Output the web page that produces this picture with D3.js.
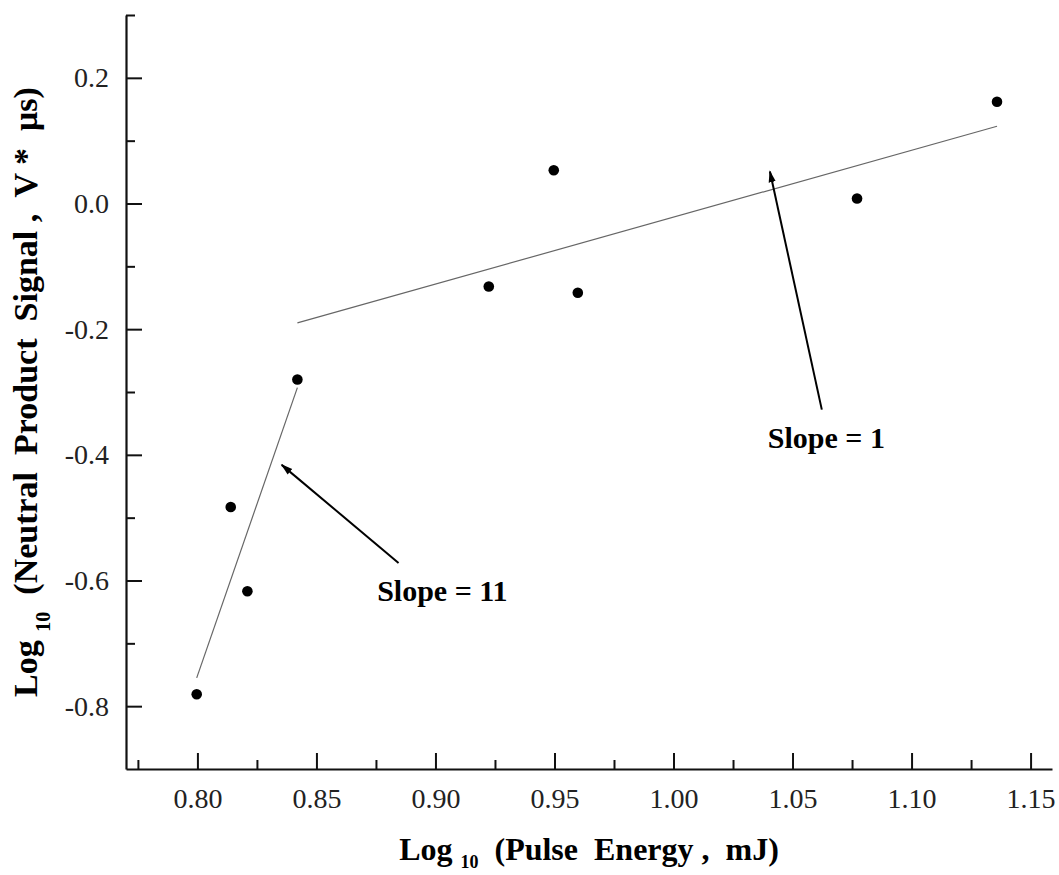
<!DOCTYPE html>
<html>
<head>
<meta charset="utf-8">
<script src="https://cdn.jsdelivr.net/npm/d3@7"></script>
<style>
  html, body { margin: 0; padding: 0; background: #fff; }
  svg { display: block; }
  text { font-family: "Liberation Serif", "Times New Roman", serif; }
</style>
</head>
<body>
<svg id="chart" width="1059" height="875"></svg>
<script>
// ---- data ----
const energyLog = [0.7997, 0.814, 0.821, 0.842, 0.9224, 0.9497, 0.9598, 1.0771, 1.1359];
const signalLog = [-0.781, -0.483, -0.617, -0.280, -0.132, 0.053, -0.142, 0.008, 0.162];

const fitLowX = [0.7997, 0.842];
const fitLowY = [-0.755, -0.293];
const fitHighX = [0.842, 1.1359];
const fitHighY = [-0.190, 0.123];

const xMajorTicks = [0.80, 0.85, 0.90, 0.95, 1.00, 1.05, 1.10, 1.15];
const xMinorTicks = [0.775, 0.825, 0.875, 0.925, 0.975, 1.025, 1.075, 1.125];
const yMajorTicks = [-0.8, -0.6, -0.4, -0.2, 0.0, 0.2];
const yMinorTicks = [-0.7, -0.5, -0.3, -0.1, 0.1, 0.3];

const annotationLabels = ["Slope = 11", "Slope = 1"];
const annotationTextX = [0.8755, 1.0396];
const annotationTextY = [-0.633, -0.389];
const arrowTailX = [0.8845, 1.0623];
const arrowTailY = [-0.572, -0.328];
const arrowTipX = [0.8354, 1.0405];
const arrowTipY = [-0.416, 0.051];

// ---- scales ----
const svg = d3.select("#chart");
const x = d3.scaleLinear().domain([0.77, 1.159]).range([126, 1052]);
const y = d3.scaleLinear().domain([-0.9, 0.3]).range([769, 15]);

const defs = svg.append("defs");
defs.append("marker")
  .attr("id", "arrowhead")
  .attr("viewBox", "0 0 10 10")
  .attr("refX", 9).attr("refY", 5)
  .attr("markerWidth", 12).attr("markerHeight", 12)
  .attr("markerUnits", "userSpaceOnUse")
  .attr("orient", "auto")
  .append("path").attr("d", "M0,2 L10,5 L0,8 Z").attr("fill", "#000");

// ---- axes ----
const axisY0 = y.range()[0];
const axisX0 = x.range()[0];
const fmtX = d => d3.format(".2f")(d).replace("−", "-");
const fmtY = d => d3.format(".1f")(d).replace("−", "-");

const gx = svg.append("g").attr("transform", `translate(0,${axisY0})`);
gx.call(d3.axisBottom(x).tickValues(xMajorTicks).tickSize(-16).tickSizeOuter(0)
  .tickFormat(fmtX).tickPadding(19));
gx.append("g").call(d3.axisBottom(x).tickValues(xMinorTicks).tickSize(-9).tickSizeOuter(0).tickFormat(""))
  .select(".domain").remove();

const gy = svg.append("g").attr("transform", `translate(${axisX0},0)`);
gy.call(d3.axisLeft(y).tickValues(yMajorTicks).tickSize(-16).tickSizeOuter(0)
  .tickFormat(fmtY).tickPadding(17));
gy.append("g").call(d3.axisLeft(y).tickValues(yMinorTicks).tickSize(-9).tickSizeOuter(0).tickFormat(""))
  .select(".domain").remove();

svg.selectAll(".domain").attr("stroke", "#111").attr("stroke-width", 2.2);
svg.selectAll(".tick line").attr("stroke", "#111").attr("stroke-width", 2);
svg.selectAll(".tick text").attr("font-size", 28).attr("fill", "#222")
  .attr("font-family", "Liberation Serif, Times New Roman, serif");
gx.selectAll(".tick text").attr("dy", "0.71em");

// ---- fit lines ----
const line = d3.line().x(d => x(d[0])).y(d => y(d[1]));
svg.append("path").datum(d3.zip(fitLowX, fitLowY)).attr("d", line)
  .attr("fill", "none").attr("stroke", "#666").attr("stroke-width", 1.2);
svg.append("path").datum(d3.zip(fitHighX, fitHighY)).attr("d", line)
  .attr("fill", "none").attr("stroke", "#666").attr("stroke-width", 1.2);

// ---- points ----
svg.append("g").selectAll("circle").data(d3.zip(energyLog, signalLog)).join("circle")
  .attr("cx", d => x(d[0])).attr("cy", d => y(d[1])).attr("r", 5.3).attr("fill", "#000");

// ---- annotations ----
annotationLabels.forEach((lab, i) => {
  svg.append("line")
    .attr("x1", x(arrowTailX[i])).attr("y1", y(arrowTailY[i]))
    .attr("x2", x(arrowTipX[i])).attr("y2", y(arrowTipY[i]))
    .attr("stroke", "#000").attr("stroke-width", 2)
    .attr("marker-end", "url(#arrowhead)");
  svg.append("text")
    .attr("x", x(annotationTextX[i])).attr("y", y(annotationTextY[i]))
    .attr("font-size", 30).attr("font-weight", "bold").attr("fill", "#000")
    .text(lab);
});

// ---- axis titles ----
const xt = svg.append("text").attr("x", (x.range()[0] + x.range()[1]) / 2).attr("y", 860)
  .attr("text-anchor", "middle").attr("font-size", 32).attr("font-weight", "bold")
  .style("white-space", "pre");
xt.append("tspan").text("Log ");
xt.append("tspan").attr("font-size", 18).attr("dy", 8).text("10");
xt.append("tspan").attr("dy", -8).text("  (Pulse  Energy ,  mJ)");

const yt = svg.append("text")
  .attr("transform", `translate(37,${(y.range()[0] + y.range()[1]) / 2}) rotate(-90)`)
  .attr("text-anchor", "middle").attr("font-size", 34).attr("font-weight", "bold")
  .style("white-space", "pre");
yt.append("tspan").text("Log ");
yt.append("tspan").attr("font-size", 20).attr("dy", 13).text("10");
yt.append("tspan").attr("dy", -13).text("  (Neutral  Product  Signal ,  V *  μs)");
</script>
</body>
</html>
